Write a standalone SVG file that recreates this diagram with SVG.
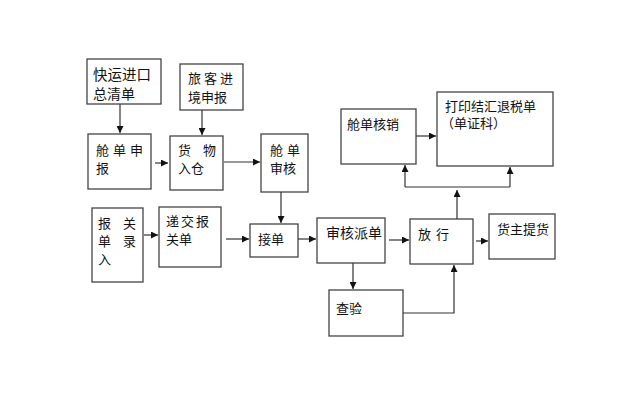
<svg xmlns="http://www.w3.org/2000/svg" width="640" height="400" viewBox="0 0 640 400">
<defs>
<marker id="ah" viewBox="0 0 10 10" refX="10" refY="5" markerWidth="7" markerHeight="7" markerUnits="userSpaceOnUse" orient="auto">
<path d="M0,0 L10,5 L0,10 z" fill="#111"/>
</marker>
<style>
.box{fill:#fff;stroke:#444;stroke-width:1.3}
.t{font-family:"Liberation Sans","Noto Sans CJK SC",sans-serif;font-size:13px;fill:#111}
.c{fill:none;stroke:#333;stroke-width:1.2}
.a{fill:none;stroke:#333;stroke-width:1.2;marker-end:url(#ah)}
</style>
</defs>
<rect width="640" height="400" fill="#fff"/>
<g id="n1"><rect class="box" x="87" y="59" width="74" height="45"/><text class="t" x="93" y="80" style="font-size:14.5px">快运进口</text><text class="t" x="93" y="99" style="font-size:14px">总清单</text></g>
<g id="n2"><rect class="box" x="180" y="64" width="63" height="46"/><text class="t" x="188" y="83" letter-spacing="3">旅客进</text><text class="t" x="188" y="102">境申报</text></g>
<g id="n3"><rect class="box" x="88" y="134" width="63" height="55"/><text class="t" x="96" y="155" letter-spacing="4">舱单申</text><text class="t" x="96" y="173">报</text></g>
<g id="n4"><rect class="box" x="170" y="136" width="53" height="54"/><text class="t" x="178" y="155" letter-spacing="12">货物</text><text class="t" x="178" y="173">入仓</text></g>
<g id="n5"><rect class="box" x="261" y="134" width="47" height="58"/><text class="t" x="270" y="155" letter-spacing="4">舱单</text><text class="t" x="270" y="173">审核</text></g>
<g id="n6"><rect class="box" x="92" y="208" width="51" height="74"/><text class="t" x="98" y="228" letter-spacing="12">报关</text><text class="t" x="98" y="246" letter-spacing="12">单录</text><text class="t" x="98" y="264">入</text></g>
<g id="n7"><rect class="box" x="159" y="207" width="62" height="60"/><text class="t" x="166" y="226" letter-spacing="2">递交报</text><text class="t" x="166" y="244">关单</text></g>
<g id="n8"><rect class="box" x="250" y="224" width="48" height="33"/><text class="t" x="258" y="244">接单</text></g>
<g id="n9"><rect class="box" x="317" y="218" width="68" height="45"/><text class="t" x="326" y="238" style="font-size:14px">审核派单</text></g>
<g id="n10"><rect class="box" x="329" y="290" width="74" height="46"/><text class="t" x="336" y="313">查验</text></g>
<g id="n11"><rect class="box" x="410" y="219" width="63" height="45"/><text class="t" x="418" y="239" letter-spacing="5">放行</text></g>
<g id="n12"><rect class="box" x="489" y="214" width="66" height="45"/><text class="t" x="497" y="234">货主提货</text></g>
<g id="n13"><rect class="box" x="341" y="109" width="75" height="55"/><text class="t" x="347" y="129">舱单核销</text></g>
<g id="n14"><rect class="box" x="437" y="92" width="116" height="74"/><text class="t" x="445" y="111">打印结汇退税单</text><text class="t" x="441" y="128">（单证科）</text></g>
<g id="connectors">
<path class="a" d="M120,104 V133"/>
<path class="a" d="M202,110 V135"/>
<path class="a" d="M155,163 H168"/>
<path class="a" d="M224,162 H260"/>
<path class="a" d="M281,192 V223"/>
<path class="a" d="M144,235 H158"/>
<path class="a" d="M226,239 H249"/>
<path class="a" d="M298,239 H316"/>
<path class="a" d="M389,240 H409"/>
<path class="a" d="M476,241 H488"/>
<path class="a" d="M353,263 V289"/>
<path class="a" d="M403,313 H454 V265"/>
<path class="a" d="M457,219 V190"/>
<path class="c" d="M405,187 H510"/>
<path class="a" d="M405,187 V165"/>
<path class="a" d="M510,187 V167"/>
<path class="a" d="M416,136 H436"/>
</g>
</svg>
